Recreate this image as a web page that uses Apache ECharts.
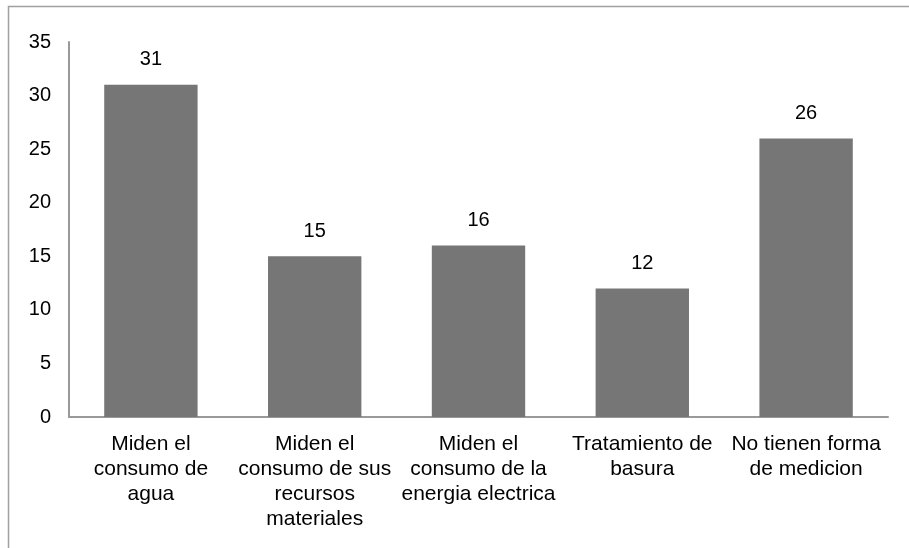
<!DOCTYPE html>
<html>
<head>
<meta charset="utf-8">
<script src="https://cdn.jsdelivr.net/npm/echarts@6/dist/echarts.min.js"></script>
<style>
  html, body { margin: 0; padding: 0; background: #fff; }
  #chart { width: 909px; height: 548px; }
</style>
</head>
<body>
<div id="chart"></div>
<script>
var categories = [
  "Miden el\nconsumo de\nagua",
  "Miden el\nconsumo de sus\nrecursos\nmateriales",
  "Miden el\nconsumo de la\nenergia electrica",
  "Tratamiento de\nbasura",
  "No tienen forma\nde medicion"
];
var values = [31, 15, 16, 12, 26];
var yTicks = { min: 0, max: 35, interval: 5 };

var chart = echarts.init(document.getElementById("chart"));
chart.setOption({
  animation: false,
  textStyle: { fontFamily: "Liberation Sans, Arial, sans-serif" },
  graphic: [
    {
      type: "rect",
      shape: { x: 8.5, y: 6.5, width: 1000, height: 1000 },
      style: { fill: "none", stroke: "#a0a0a0", lineWidth: 1.5 },
      silent: true
    }
  ],
  grid: { left: 69, right: 21, top: 42, bottom: 131, containLabel: false },
  xAxis: {
    type: "category",
    data: categories,
    axisLine: { lineStyle: { color: "#999", width: 2 } },
    axisTick: { show: false },
    axisLabel: {
      interval: 0,
      color: "#000",
      fontSize: 21,
      lineHeight: 25,
      margin: 15
    }
  },
  yAxis: {
    type: "value",
    min: yTicks.min,
    max: yTicks.max,
    interval: yTicks.interval,
    axisLine: { show: true, lineStyle: { color: "#999", width: 2 } },
    axisTick: { show: false },
    splitLine: { show: false },
    axisLabel: { color: "#000", fontSize: 20, margin: 18 }
  },
  series: [
    {
      type: "bar",
      data: values,
      barWidth: "57%",
      itemStyle: { color: "#767676" },
      label: {
        show: true,
        position: "top",
        distance: 15,
        color: "#000",
        fontSize: 20
      }
    }
  ]
});
</script>
</body>
</html>
